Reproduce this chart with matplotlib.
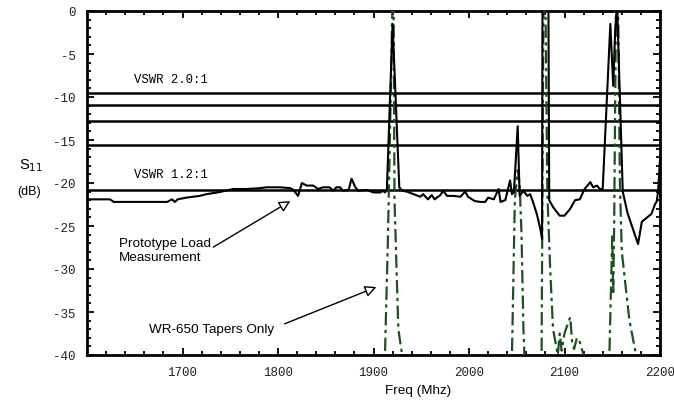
import matplotlib
matplotlib.use('Agg')
import matplotlib.pyplot as plt
from matplotlib.ticker import MultipleLocator

plt.rcParams['axes.unicode_minus'] = False

# measured prototype load (black)
meas_freq = [1600, 1624, 1628, 1684, 1689, 1692, 1695, 1704, 1718, 1725, 1739, 1753, 1767,
             1781, 1788, 1802, 1813, 1816, 1821, 1825, 1830, 1837, 1842, 1847, 1854, 1858,
             1861, 1865, 1868, 1874, 1877, 1881, 1884, 1893, 1900, 1907, 1910, 1912, 1914,
             1920, 1927, 1930, 1935, 1942, 1949, 1952, 1957, 1961, 1964, 1970, 1973, 1977,
             1984, 1991, 1996, 1999, 2006, 2012, 2017, 2020, 2026, 2031, 2033, 2038, 2043,
             2045, 2047, 2051, 2053, 2057, 2061, 2064, 2067, 2071, 2075, 2076.5, 2077,
             2083, 2084, 2088, 2095, 2100, 2106, 2111, 2116, 2121, 2127, 2130, 2134, 2137,
             2140, 2148, 2151, 2153, 2155, 2161, 2166, 2177, 2181, 2191, 2195, 2196.5,
             2198, 2200]
meas_db = [-21.9, -21.9, -22.2, -22.2, -21.9, -22.2, -21.9, -21.7, -21.5, -21.3, -21.05, -20.7,
           -20.7, -20.6, -20.5, -20.5, -20.6, -20.8, -21.5, -20.0, -20.3, -20.3, -20.7, -20.5,
           -20.5, -20.9, -20.5, -20.5, -20.9, -20.8, -19.5, -20.5, -20.9, -20.8, -21.1, -21.1,
           -20.9, -21.1, -20.8, -1.5, -20.5, -20.9, -21.0, -21.3, -21.6, -21.3, -21.9, -21.4,
           -21.9, -21.4, -20.9, -21.5, -21.5, -21.6, -21.0, -21.6, -22.1, -22.2, -22.2, -21.7,
           -21.9, -20.7, -22.2, -22.0, -19.7, -21.3, -21.1, -13.4, -21.5, -20.9, -21.5, -21.3,
           -22.2, -23.6, -25.5, -26.5, 5.0, 5.0, -22.0, -22.8, -23.8, -23.8, -23.0, -22.0,
           -21.9, -20.7, -19.9, -20.5, -20.3, -20.7, -20.7, -1.5, -8.7, -2.5, 1.0, -21.0,
           -23.5, -27.1, -24.5, -23.6, -22.4, -22.2, -21.0, -17.2]

# WR-650 tapers only (green dash-dot)
taper_freq = [1600, 1908, 1912, 1915, 1918, 1920, 1921, 1922, 1926, 1930, 1934, 2040, 2045,
              2048, 2051, 2053, 2055, 2057, 2058, 2062, 2072, 2076, 2078, 2080, 2082, 2085,
              2088, 2093, 2095, 2097, 2100, 2103, 2106, 2108, 2110, 2113, 2116, 2120, 2124,
              2143, 2147, 2150, 2151, 2152, 2154, 2156, 2158, 2160, 2168, 2175, 2180, 2200]
taper_db = [-50, -50, -40, -27, -10, 2, 2, -22, -37, -40, -50, -50, -40, -22, -18.5, -20,
            -26, -37, -40, -50, -50, -40, 2, 2, -21, -30, -37, -40, -37.5, -39.5, -37.5,
            -36.5, -35.6, -38.5, -39.3, -38, -38.5, -40, -50, -50, -40, -26, -33, -25, 2,
            2, -20, -28, -36, -40, -50, -50]

# VSWR return-loss reference lines: 2.0, 1.8, 1.6, 1.4, 1.2
vswr_db = [-9.54, -10.88, -12.74, -15.56, -20.83]

fig = plt.figure(figsize=(6.74, 4.02), dpi=100)
ax = fig.add_axes([87 / 674, 1 - 356 / 402, (660 - 87) / 674, (356 - 12) / 402])

for level in vswr_db:
    ax.axhline(level, color='black', lw=1.8, zorder=2)

ax.plot(taper_freq, taper_db, color='#1e5020', lw=1.6, linestyle=(0, (6, 2, 1.5, 2)), zorder=3)
ax.plot(meas_freq, meas_db, color='black', lw=1.5, zorder=4)

ax.set_xlim(1600, 2200)
ax.set_ylim(-40, 0)
ax.set_xticks([1700, 1800, 1900, 2000, 2100, 2200])
ax.xaxis.set_minor_locator(MultipleLocator(20))
ax.set_yticks(range(-40, 1, 5))
ax.yaxis.set_minor_locator(MultipleLocator(1))
ax.tick_params(which='both', direction='in', top=True, right=True, width=1.3)
ax.tick_params(which='major', length=5, labelsize=9, pad=8)
ax.tick_params(which='minor', length=3)
for lab in ax.get_xticklabels() + ax.get_yticklabels():
    lab.set_fontfamily('Liberation Mono')
    lab.set_color('#222222')
for sp in ax.spines.values():
    sp.set_linewidth(2)

mono = dict(family='Liberation Mono', fontsize=8.8)
ax.text(1649, -7.9, 'VSWR 2.0:1', va='center', **mono)
ax.text(1649, -19.0, 'VSWR 1.2:1', va='center', **mono)

sans = dict(family='Liberation Sans', fontsize=9.7)
ax.annotate('Prototype Load\nMeasurement', xy=(1813, -22.1), xytext=(1633, -27.8),
            va='center', ha='left', linespacing=1.2, **sans,
            arrowprops=dict(arrowstyle='-|>', fc='white', ec='black', lw=1,
                            mutation_scale=17, shrinkA=0, shrinkB=0,
                            relpos=(1.0, 0.55)))
ax.annotate('WR-650 Tapers Only', xy=(1903, -32.1), xytext=(1665, -37.0),
            va='center', ha='left', **sans,
            arrowprops=dict(arrowstyle='-|>', fc='white', ec='black', lw=1,
                            mutation_scale=17, shrinkA=6, shrinkB=0,
                            relpos=(1.0, 0.6)))

fig.text(418 / 674, 1 - 391 / 402, 'Freq (Mhz)', ha='center', va='center', **sans)
fig.text(31 / 674, 1 - 166 / 402, r'S$_{11}$', ha='center', va='center',
         family='Liberation Sans', fontsize=10.5)
fig.text(29 / 674, 1 - 192 / 402, '(dB)', ha='center', va='center', family='Liberation Sans',
         fontsize=9)

fig.savefig('out.png', dpi=100)
